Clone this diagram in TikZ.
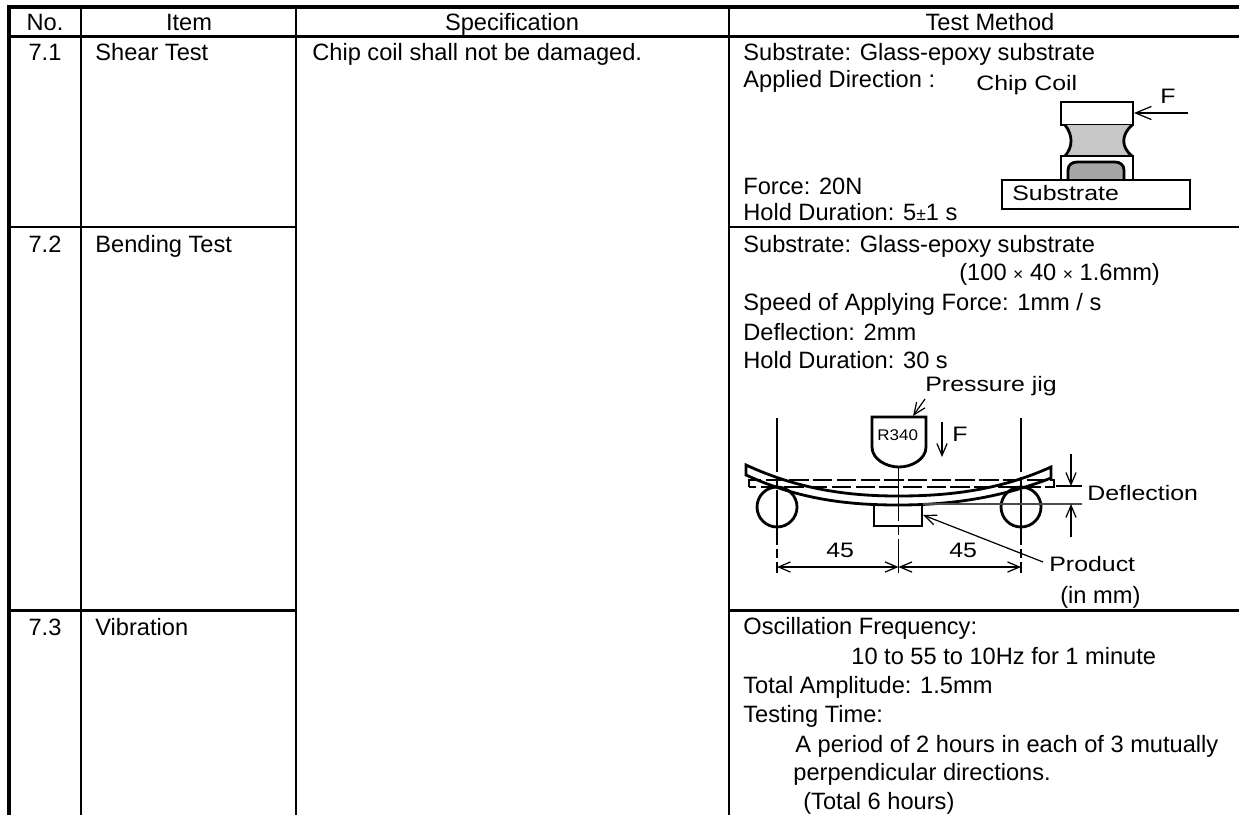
\documentclass[tikz,border=0pt]{standalone}
\usepackage{fontspec}
\setmainfont{Liberation Sans}
\usepackage{tikz}
\usetikzlibrary{arrows.meta}
\newcommand{\smallsym}[1]{{\fontsize{10pt}{10pt}\selectfont #1}}
\tikzset{
	thickline/.style={line width=2pt},
	rowline/.style={line width=1.5pt},
	cell/.style={font=\fontsize{13.45pt}{16pt}\selectfont,inner sep=0pt,anchor=base west},
	head/.style={font=\fontsize{13.45pt}{16pt}\selectfont,inner sep=0pt,anchor=base},
	small/.style={font=\fontsize{11.9pt}{14pt}\selectfont\addfontfeature{FakeStretch=1.19},inner sep=0pt,anchor=base west},
	part/.style={line width=1.6pt},
	thinline/.style={line width=0.7pt},
	opentip/.style={>={Straight Barb[length=6.8pt,width=5.8pt]}},
	bigtip/.style={>={Straight Barb[length=9pt,width=7.5pt]}},
	centerline/.style={line width=0.7pt,dash pattern=on 31pt off 2.5pt on 5pt off 2.5pt},
	plateline/.style={line width=0.9pt,dash pattern=on 11pt off 2.5pt},
}
\begin{document}
\begin{tikzpicture}[x=0.02cm,y=-0.02cm]
		\useasboundingbox (0,0) rectangle (1239,815);
		%
		% table rules
		\draw[thickline] (7,7) -- (1239,7);
		\draw[thickline] (7,36.5) -- (1239,36.5);
		\draw[thickline] (9,6) -- (9,815);
		\draw[rowline] (81,7) -- (81,815);
		\draw[rowline] (296,7) -- (296,815);
		\draw[rowline] (729,7) -- (729,815);
		\draw[rowline] (9,227) -- (296,227);
		\draw[rowline] (729,227) -- (1239,227);
		\draw[rowline] (9,610.5) -- (296,610.5);
		\draw[rowline] (729,610.5) -- (1239,610.5);
		%
		% header
		\node[head] (hno) at (45,30.5) {No.};
		\node[head] (hitem) at (189,30.5) {Item};
		\node[head] (hspec) at (512,30.5) {Specification};
		\node[head] (htest) at (990,30.5) {Test Method};
		%
		\node[head] (n1) at (45,60) {7.1};
		\node[cell] (i1) at (95,60) {Shear Test};
		\node[cell] (s1) at (312,60) {Chip coil shall not be damaged.};
		\node[head] (n2) at (45,252) {7.2};
		\node[cell] (i2) at (95,252) {Bending Test};
		\node[head] (n3) at (45,635) {7.3};
		\node[cell] (i3) at (95,635) {Vibration};
		%
		% test method 7.1
		\node[cell] (t1) at (743,60.5) {Substrate: Glass-epoxy substrate};
		\node[cell] (t2) at (743,87) {Applied Direction :};
		\node[cell] (t3) at (743,194) {Force: 20N};
		\node[cell] (t4) at (743,220) {Hold Duration: 5\smallsym{±}1 s};
		\node[small] (coil) at (976,90) {Chip Coil};
		\node[small] (force) at (1160,103) {F};
		\draw[part] (1061,102) rectangle (1133,125);
		\fill[black!22] (1065,125) .. controls (1073,135) and (1073,147) .. (1065,156) -- (1132,156) .. controls (1121,147) and (1121,135) .. (1132,125) -- cycle;
		\draw[part] (1065,125) .. controls (1073,135) and (1073,147) .. (1065,156);
		\draw[part] (1132,125) .. controls (1121,135) and (1121,147) .. (1132,156);
		\draw[part] (1061,156) rectangle (1133,181);
		\draw[part,fill=black!35] (1068,181) -- (1068,170) .. controls (1068,165) and (1072,162) .. (1077,162) -- (1115,162) .. controls (1120,162) and (1124,165) .. (1124,170) -- (1124,181);
		\draw[part,fill=white] (1002,180) rectangle (1190,209);
		\node[small] (sub) at (1012,200) {Substrate};
		\coordinate (fs) at (1188,113);
		\coordinate (fe) at (1134,113);
		\draw[thinline,->,bigtip] (fs) -- (fe);
		%
		% test method 7.2
		\node[cell] (b1) at (743,252) {Substrate: Glass-epoxy substrate};
		\node[cell] (b2) at (959,280) {(100 \smallsym{×} 40 \smallsym{×} 1.6mm)};
		\node[cell] (b3) at (743,310) {Speed of Applying Force: 1mm / s};
		\node[cell] (b4) at (743,340) {Deflection: 2mm};
		\node[cell] (b5) at (743,368) {Hold Duration: 30 s};
		\node[small] (jig) at (925,391) {Pressure jig};
		\node[small] (press) at (952,441) {F};
		\node[small,font=\fontsize{8.8pt}{10pt}\selectfont\addfontfeature{FakeStretch=1.1}] (radius) at (877,440) {R340};
		\node[small] (defl) at (1087,500) {Deflection};
		\node[small] (prod) at (1049,571) {Product};
		\node[cell] (mm) at (1060,603) {(in mm)};
		\node[small] (d1) at (826,557) {45};
		\node[small] (d2) at (949,557) {45};
		%
		\draw[centerline] (777,418) -- (777,573);
		\draw[centerline] (898.5,467) -- (898.5,573);
		\draw[centerline] (1021,418) -- (1021,573);
		%
		\draw[part] (872,417) -- (926,417) -- (926,447) .. controls (926,459) and (912,467) .. (899,467) .. controls (886,467) and (872,459) .. (872,447) -- cycle;
		\draw[plateline] (749,487) -- (749,480) -- (1054,480) -- (1054,487) -- cycle;
		\draw[part] (746,465) .. controls (800,490) and (850,496) .. (898,496) .. controls (950,496) and (1000,490) .. (1051,467) -- (1051,478) .. controls (1000,498) and (950,505) .. (898,505) .. controls (850,505) and (800,500) .. (746,475) -- cycle;
		\draw[part] (777,507) circle (20);
		\draw[part] (1021,507) circle (20);
		\draw[part] (874,505) rectangle (922,526);
		%
		\draw[thinline,black!70] (923,504) -- (1082,504);
		\draw[thinline] (1056,486) -- (1082,486);
		%
		\coordinate (ja) at (925,399);
		\coordinate (jb) at (913,416);
		\coordinate (fa) at (942,422);
		\coordinate (fb) at (942,457);
		\coordinate (pa) at (1043,562);
		\coordinate (pb) at (923,515);
		\coordinate (dl) at (777,567);
		\coordinate (dm) at (898.5,567);
		\coordinate (dr) at (1021,567);
		\coordinate (ua) at (1071,454);
		\coordinate (ub) at (1071,486);
		\coordinate (la) at (1071,537);
		\coordinate (lb) at (1071,504);
		\path[->,thinline,opentip]
		(ja) edge (jb)
		(fa) edge (fb)
		(pa) edge (pb)
		(ua) edge (ub)
		(la) edge (lb);
		\draw[<->,thinline,opentip] (dl) -- (dm);
		\draw[<->,thinline,opentip] (dm) -- (dr);
		%
		% test method 7.3
		\node[cell] (v1) at (743,634) {Oscillation Frequency:};
		\node[cell] (v2) at (851,664) {10 to 55 to 10Hz for 1 minute};
		\node[cell] (v3) at (743,693) {Total Amplitude: 1.5mm};
		\node[cell] (v4) at (743,722) {Testing Time:};
		\node[cell] (v5) at (795,752) {A period of 2 hours in each of 3 mutually};
		\node[cell] (v6) at (793,780) {perpendicular directions.};
		\node[cell] (v7) at (803,809) {(Total 6 hours)};
	\end{tikzpicture}
\end{document}
